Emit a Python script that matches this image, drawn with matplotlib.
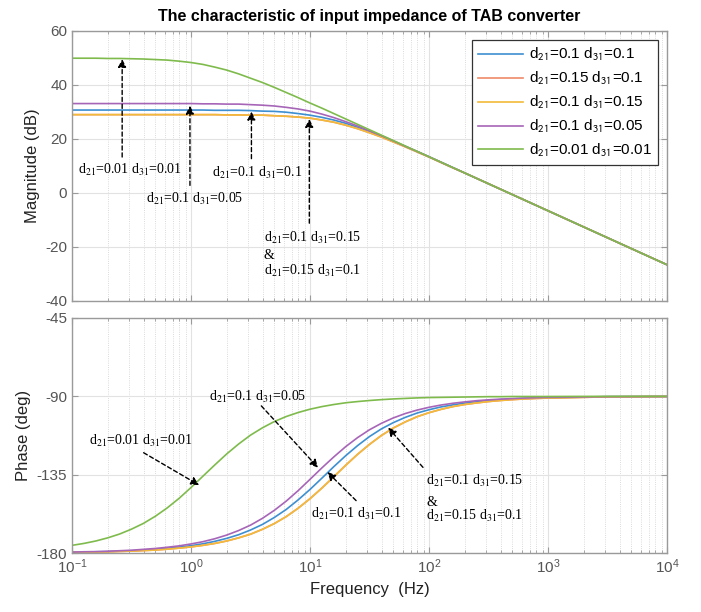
import matplotlib
matplotlib.use("Agg")
import matplotlib.pyplot as plt
from matplotlib.ticker import LogLocator, NullFormatter, FixedLocator


# =========================
# FONTS
# =========================
plt.rcParams["font.family"] = ["Liberation Sans", "DejaVu Sans"]
plt.rcParams["mathtext.fontset"] = "stix"
plt.rcParams["mathtext.default"] = "rm"
plt.rcParams["axes.unicode_minus"] = False


# =========================
# DATA
# =========================
FREQ = [0.1, 0.1259, 0.1585, 0.1995, 0.2512, 0.3162, 0.3981, 0.5012, 0.631, 0.7943,
        1.0, 1.259, 1.585, 1.995, 2.512, 3.162, 3.981, 5.012, 6.31, 7.943,
        10, 12.59, 15.85, 19.95, 25.12, 31.62, 39.81, 50.12, 63.1, 79.43,
        100, 125.9, 158.5, 199.5, 251.2, 316.2, 398.1, 501.2, 631, 794.3,
        1000, 3162, 10000]

MAG_BLUE = [30.6, 30.6, 30.6, 30.6, 30.6, 30.6, 30.6, 30.6, 30.6, 30.6,
            30.6, 30.6, 30.5, 30.5, 30.5, 30.4, 30.2, 30.1, 29.8, 29.3,
            28.7, 27.9, 26.9, 25.7, 24.2, 22.6, 20.9, 19.0, 17.1, 15.2,
            13.3, 11.3, 9.3, 7.3, 5.3, 3.3, 1.3, -0.7, -2.7, -4.7,
            -6.7, -16.7, -26.7]
# d21=0.15 d31=0.1 lies on top of d21=0.1 d31=0.15 in the reference
MAG_ORANGE = [28.9, 28.9, 28.9, 28.9, 28.9, 28.9, 28.9, 28.9, 28.9, 28.9,
              28.9, 28.9, 28.9, 28.8, 28.8, 28.7, 28.7, 28.5, 28.3, 28.0,
              27.6, 26.9, 26.1, 25.0, 23.7, 22.2, 20.6, 18.8, 17.0, 15.1,
              13.2, 11.2, 9.2, 7.3, 5.3, 3.3, 1.3, -0.7, -2.7, -4.7,
              -6.7, -16.7, -26.7]
MAG_YELLOW = [28.9, 28.9, 28.9, 28.9, 28.9, 28.9, 28.9, 28.9, 28.9, 28.9,
              28.9, 28.9, 28.9, 28.8, 28.8, 28.7, 28.7, 28.5, 28.3, 28.0,
              27.6, 26.9, 26.1, 25.0, 23.7, 22.2, 20.6, 18.8, 17.0, 15.1,
              13.2, 11.2, 9.2, 7.3, 5.3, 3.3, 1.3, -0.7, -2.7, -4.7,
              -6.7, -16.7, -26.7]
MAG_PURPLE = [33.0, 33.0, 33.0, 33.0, 33.0, 33.0, 33.0, 33.0, 33.0, 33.0,
              33.0, 32.9, 32.9, 32.8, 32.8, 32.6, 32.4, 32.1, 31.6, 31.0,
              30.2, 29.1, 27.8, 26.3, 24.7, 22.9, 21.1, 19.2, 17.2, 15.3,
              13.3, 11.3, 9.3, 7.3, 5.3, 3.3, 1.3, -0.7, -2.7, -4.7,
              -6.7, -16.7, -26.7]
MAG_GREEN = [49.8, 49.8, 49.8, 49.7, 49.7, 49.6, 49.5, 49.3, 49.1, 48.7,
             48.2, 47.5, 46.5, 45.4, 44.0, 42.4, 40.8, 39.0, 37.1, 35.2,
             33.2, 31.3, 29.3, 27.3, 25.3, 23.3, 21.3, 19.3, 17.3, 15.3,
             13.3, 11.3, 9.3, 7.3, 5.3, 3.3, 1.3, -0.7, -2.7, -4.7,
             -6.7, -16.7, -26.7]

PH_BLUE = [-179.6, -179.5, -179.3, -179.2, -178.9, -178.7, -178.3, -177.9, -177.3, -176.6,
           -175.8, -174.7, -173.3, -171.6, -169.5, -166.8, -163.6, -159.6, -155.0, -149.5,
           -143.5, -137.0, -130.4, -124.1, -118.3, -113.1, -108.7, -105.1, -102.1, -99.6,
           -97.7, -96.1, -94.9, -93.9, -93.1, -92.4, -91.9, -91.5, -91.2, -91.0,
           -90.8, -90.2, -90.1]
PH_ORANGE = [-179.7, -179.6, -179.5, -179.3, -179.1, -178.9, -178.6, -178.3, -177.8, -177.2,
             -176.5, -175.6, -174.5, -173.1, -171.3, -169.2, -166.4, -163.1, -159.1, -154.3,
             -148.8, -142.7, -136.2, -129.6, -123.3, -117.6, -112.5, -108.2, -104.7, -101.7,
             -99.4, -97.5, -95.9, -94.7, -93.8, -93.0, -92.4, -91.9, -91.5, -91.2,
             -91.0, -90.3, -90.1]
PH_YELLOW = [-179.7, -179.6, -179.5, -179.3, -179.1, -178.9, -178.6, -178.3, -177.8, -177.2,
             -176.5, -175.6, -174.5, -173.1, -171.3, -169.2, -166.4, -163.1, -159.1, -154.3,
             -148.8, -142.7, -136.2, -129.6, -123.3, -117.6, -112.5, -108.2, -104.7, -101.7,
             -99.4, -97.5, -95.9, -94.7, -93.8, -93.0, -92.4, -91.9, -91.5, -91.2,
             -91.0, -90.3, -90.1]
PH_PURPLE = [-179.5, -179.3, -179.2, -179.0, -178.7, -178.4, -177.9, -177.4, -176.7, -175.9,
             -174.8, -173.5, -171.8, -169.7, -167.1, -164.0, -160.1, -155.5, -150.2, -144.2,
             -137.7, -131.1, -124.8, -118.9, -113.7, -109.2, -105.5, -102.4, -99.9, -97.9,
             -96.3, -95.0, -94.0, -93.2, -92.5, -92.0, -91.6, -91.3, -91.0, -90.8,
             -90.6, -90.2, -90.1]
PH_GREEN = [-175.6, -174.5, -173.1, -171.3, -169.1, -166.3, -163.0, -158.9, -154.1, -148.6,
            -142.4, -135.9, -129.4, -123.1, -117.4, -112.3, -108.1, -104.5, -101.6, -99.3,
            -97.4, -95.9, -94.7, -93.7, -93.0, -92.4, -91.9, -91.5, -91.2, -90.9,
            -90.7, -90.6, -90.5, -90.4, -90.3, -90.2, -90.2, -90.1, -90.1, -90.1,
            -90.1, -90.0, -90.0]

LABELS = [
    r"d$_{\mathsf{21}}$=0.1 d$_{\mathsf{31}}$=0.1",
    r"d$_{\mathsf{21}}$=0.15 d$_{\mathsf{31}}$=0.1",
    r"d$_{\mathsf{21}}$=0.1 d$_{\mathsf{31}}$=0.15",
    r"d$_{\mathsf{21}}$=0.1 d$_{\mathsf{31}}$=0.05",
    r"d$_{\mathsf{21}}$=0.01 d$_{\mathsf{31}}$=0.01",
]
COLORS = ["#3d8fd1", "#ef8a6a", "#f2bb3a", "#a765b8", "#7fbb4c"]

MAGS = [MAG_BLUE, MAG_ORANGE, MAG_YELLOW, MAG_PURPLE, MAG_GREEN]
PHASES = [PH_BLUE, PH_ORANGE, PH_YELLOW, PH_PURPLE, PH_GREEN]

# annotation texts: (text, x, y)
MAG_TEXTS = [
    (r"d$_{21}$=0.01 d$_{31}$=0.01", 0.112, 8.5),
    (r"d$_{21}$=0.1 d$_{31}$=0.05", 0.42, -2.2),
    (r"d$_{21}$=0.1 d$_{31}$=0.1", 1.50, 7.3),
    (r"d$_{21}$=0.1 d$_{31}$=0.15", 4.1, -16.9),
    (r"&", 4.1, -23.1),
    (r"d$_{21}$=0.15 d$_{31}$=0.1", 4.1, -29.0),
]
# arrows: (tail x, tail y, tip x, tip y)
MAG_ARROWS = [
    (0.264, 13.2, 0.264, 49.5),
    (0.98, 2.7, 0.98, 32.2),
    (3.22, 12.6, 3.22, 30.0),
    (9.87, -11.3, 9.87, 27.3),
]
PH_TEXTS = [
    (r"d$_{21}$=0.01 d$_{31}$=0.01", 0.14, -115.7),
    (r"d$_{21}$=0.1 d$_{31}$=0.05", 1.41, -90.5),
    (r"d$_{21}$=0.1 d$_{31}$=0.1", 10.2, -157.7),
    (r"d$_{21}$=0.1 d$_{31}$=0.15", 95, -138.5),
    (r"&", 95, -150.8),
    (r"d$_{21}$=0.15 d$_{31}$=0.1", 95, -158.8),
]
PH_ARROWS = [
    (0.40, -122.4, 1.17, -141.0),
    (3.9, -95.5, 11.7, -131.0),
    (24.4, -149.9, 14.0, -133.5),
    (89, -130.8, 45.4, -108.0),
]


# =========================
# STYLE HELPERS
# =========================
FRAME = "#9a9a9a"
TICKTXT = "#555555"


def style_axes(ax):
    ax.set_xscale("log")
    ax.set_xlim(0.1, 1e4)
    ax.xaxis.set_major_locator(LogLocator(base=10, numticks=10))
    ax.xaxis.set_minor_locator(LogLocator(base=10, subs=range(2, 10), numticks=20))
    ax.xaxis.set_minor_formatter(NullFormatter())
    ax.grid(which="major", color="#e2e2e2", linewidth=0.8, linestyle="-")
    ax.grid(which="minor", axis="x", color="#cfcfcf", linewidth=0.6, linestyle=":")
    ax.set_axisbelow(True)
    for sp in ax.spines.values():
        sp.set_color(FRAME)
        sp.set_linewidth(1.0)
    ax.tick_params(which="both", direction="in", top=True, right=True,
                   color=FRAME, labelcolor=TICKTXT, labelsize=11)
    ax.tick_params(which="major", length=4.5)
    ax.tick_params(which="minor", length=2.5)


def add_notes(ax, texts, arrows):
    for txt, x, y in texts:
        ax.text(x, y, txt, ha="left", va="center", fontsize=10,
                family=["Liberation Serif", "DejaVu Serif"], color="black")
    for x0, y0, x1, y1 in arrows:
        ax.annotate("", xy=(x1, y1), xytext=(x0, y0),
                    arrowprops=dict(arrowstyle="-|>", color="black", lw=1.0,
                                    linestyle=(0, (3, 2)), mutation_scale=12,
                                    shrinkA=0, shrinkB=0))


# =========================
# PLOT
# =========================
fig = plt.figure(figsize=(7.01, 6.12), dpi=100)
ax_mag = fig.add_axes([0.1027, 0.5087, 0.8488, 0.4412])
ax_ph = fig.add_axes([0.1027, 0.0964, 0.8488, 0.3840])

for mag, ph, lab, col in zip(MAGS, PHASES, LABELS, COLORS):
    ax_mag.plot(FREQ, mag, color=col, linewidth=1.2, label=lab)
    ax_ph.plot(FREQ, ph, color=col, linewidth=1.2)

style_axes(ax_mag)
style_axes(ax_ph)

ax_mag.set_ylim(-40, 60)
ax_mag.yaxis.set_major_locator(FixedLocator([-40, -20, 0, 20, 40, 60]))
ax_mag.tick_params(labelbottom=False)
ax_mag.set_ylabel("Magnitude (dB)", fontsize=12, color="#222222")
ax_mag.set_title("The characteristic of input impedance of TAB converter",
                 fontsize=11.5, fontweight="bold", pad=7)

ax_ph.set_ylim(-180, -45)
ax_ph.yaxis.set_major_locator(FixedLocator([-180, -135, -90, -45]))
ax_ph.set_ylabel("Phase (deg)", fontsize=12, color="#222222")
ax_ph.set_xlabel("Frequency  (Hz)", fontsize=12, color="#222222", labelpad=4)

leg = ax_mag.legend(loc="upper right", fontsize=11, handlelength=3.0,
                    handletextpad=0.35, labelspacing=0.45,
                    borderaxespad=0.6, fancybox=False, framealpha=1)
leg.get_frame().set_edgecolor("#333333")
leg.get_frame().set_linewidth(0.9)

add_notes(ax_mag, MAG_TEXTS, MAG_ARROWS)
add_notes(ax_ph, PH_TEXTS, PH_ARROWS)

fig.savefig("out.png", dpi=100)
